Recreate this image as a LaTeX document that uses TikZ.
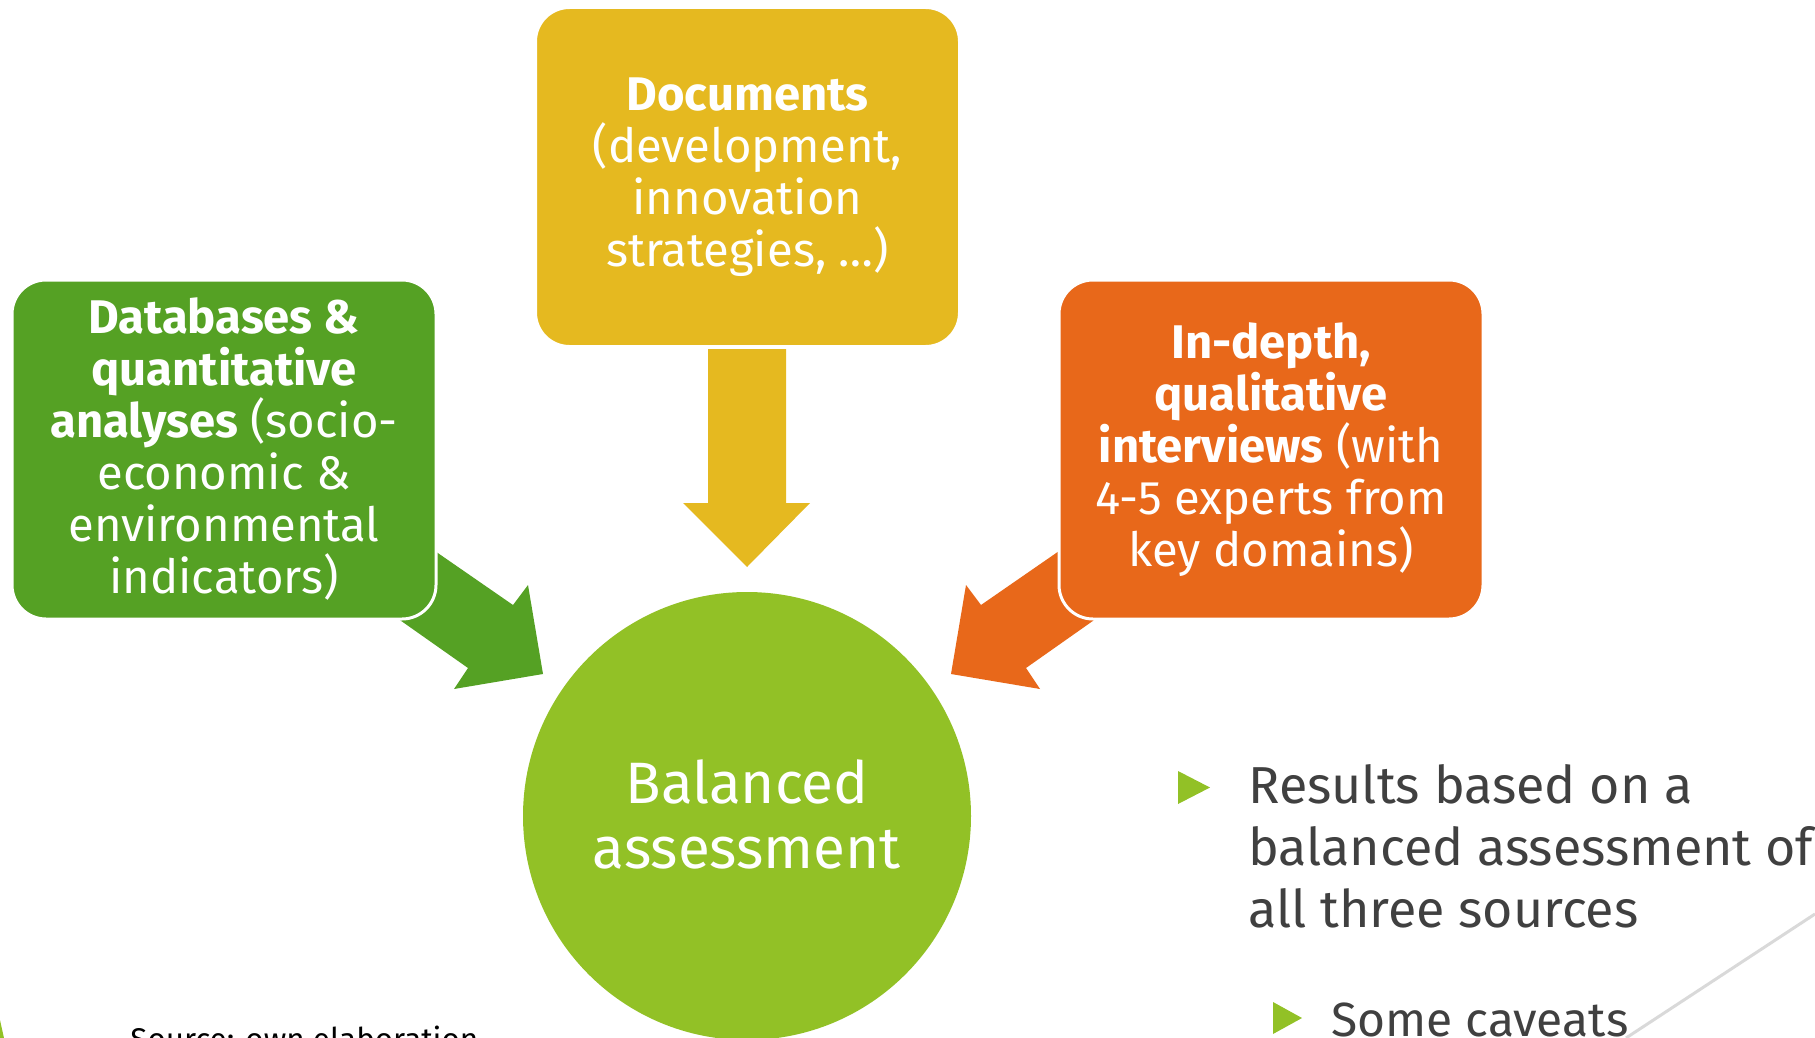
\documentclass[tikz,border=0pt]{standalone}
\usepackage{fontspec}
\setmainfont{Fira Sans}
\definecolor{dbgreen}{HTML}{55A124}
\definecolor{docyellow}{HTML}{E5B920}
\definecolor{intorange}{HTML}{E8681A}
\definecolor{balgreen}{HTML}{92C126}
\definecolor{bodygray}{HTML}{404040}
\tikzset{
  srcbox/.style={rounded corners=17pt, draw=white, line width=1.5pt, text=white,
    align=center, minimum width=212pt, minimum height=169.5pt, inner sep=0pt,
    font=\fontsize{23.6}{26}\selectfont},
  bullet/.style={fill=balgreen},
}
\begin{document}
\begin{tikzpicture}[x=0.5pt,y=-0.5pt]
  \useasboundingbox (0,0) rectangle (1815,1038);

  % block arrows (drawn first, the boxes overlap their tails)
  \fill[dbgreen] (406,531) -- (513,605) -- (528,585) -- (543,674) -- (454,689) -- (468,668) -- (370,599) -- cycle;
  \fill[intorange] (1088,531) -- (981,605) -- (966,585) -- (951,674) -- (1040,689) -- (1026,668) -- (1124,599) -- cycle;
  \fill[docyellow] (708,349) -- (786,349) -- (786,503) -- (810,503) -- (747,567) -- (683,503) -- (708,503) -- cycle;

  % the three sources
  \node[srcbox, fill=dbgreen] (db) at (224,449.5)
    {\textbf{Databases \&}\\ \textbf{quantitative}\\ \textbf{analyses} (socio-\\ economic \&\\ environmental\\ indicators)};
  \node[srcbox, fill=docyellow] (docs) at (747.5,177)
    {\textbf{Documents}\\ (development,\\ innovation\\ strategies, …)};
  \node[srcbox, fill=intorange] (intv) at (1271,449.5)
    {\textbf{In-depth,}\\ \textbf{qualitative}\\ \textbf{interviews} (with\\ 4-5 experts from\\ key domains)};

  % centre
  \node[circle, fill=balgreen, minimum size=224pt, inner sep=0pt] (bal) at (747,816) {};
  \node[text=white, align=center, inner sep=0pt,
    font=\fontsize{29.2}{32.5}\selectfont] (baltxt) at (747,814) {Balanced\\ assessment};

  % bullets on the right
  \fill[bullet] (1178,771) -- (1210,787.5) -- (1178,804) -- cycle;
  \node[anchor=north west, inner sep=0pt, align=left, text=bodygray,
    font=\fontsize{26}{31}\selectfont] (res) at (1248,764)
    {Results based on a\\ balanced assessment of\\ all three sources};
  \fill[bullet] (1273,1002) -- (1302,1018) -- (1273,1034) -- cycle;
  \node[anchor=base west, inner sep=0pt, text=bodygray,
    font=\fontsize{24}{28}\selectfont] (cav) at (1331,1036) {Some caveats};

  \node[anchor=base west, inner sep=0pt, font=\fontsize{15.7}{19}\selectfont] (src) at (130,1050)
    {Source: own elaboration};

  % slide decoration
  \fill[balgreen] (0,1020) -- (4,1038) -- (0,1038) -- cycle;
  \draw[black!15, line width=1.5pt] (1626,1038) -- (1815,914);
\end{tikzpicture}
\end{document}
